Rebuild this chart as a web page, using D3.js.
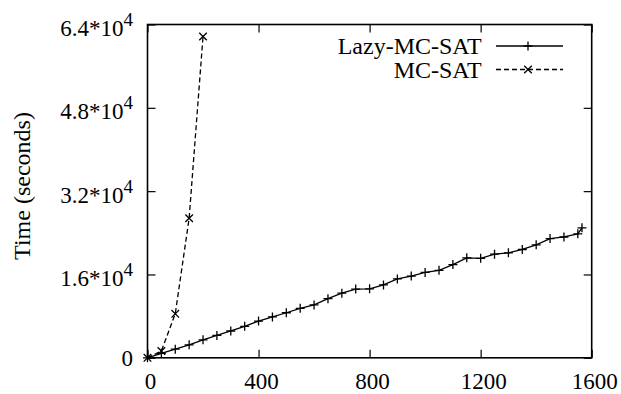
<!DOCTYPE html>
<html>
<head>
<meta charset="utf-8">
<script src="https://cdn.jsdelivr.net/npm/d3@7"></script>
<style>
  body { margin: 0; background: #fff; }
  text { font-family: "Liberation Serif", "Times New Roman", serif; fill: #000; }
</style>
</head>
<body>
<script>
  const w = 621;
  const h = 394;

  // Lazy-MC-SAT timings
  const lazyX = [0, 50, 100, 150, 200, 250, 300, 350, 400, 450, 500, 550, 600, 650, 700, 750, 800,
    850, 900, 950, 1000, 1050, 1100, 1150, 1200, 1250, 1300, 1350, 1400, 1450, 1500, 1550, 1565];
  const lazyY = [0, 850, 1650, 2500, 3450, 4300, 5150, 6050, 7050, 7850, 8650, 9500, 10150, 11350,
    12400, 13200, 13250, 14000, 15150, 15700, 16400, 16800, 17900, 19200, 19100, 19900, 20150,
    20800, 21700, 22900, 23200, 23800, 24950];

  // MC-SAT timings
  const mcX = [0, 50, 100, 150, 200];
  const mcY = [0, 1300, 8450, 26800, 61700];

  const xTicks = [0, 400, 800, 1200, 1600];
  const yTicks = [0, 16000, 32000, 48000, 64000];
  const yTickLabels = ['0', '1.6*10', '3.2*10', '4.8*10', '6.4*10'];

  const padL = 147.5, padR = 591.7, padT = 24.5, padB = 357.8;

  const xScale = d3.scaleLinear().domain([0, 1600]).range([padL, padR]);
  const yScale = d3.scaleLinear().domain([0, 64000]).range([padB, padT]);

  const svg = d3.select('body')
    .append('svg')
    .attr('width', w)
    .attr('height', h);

  // ticks (inward, mirrored on top/right)
  const tickLen = 8;
  const xAxisBottom = d3.axisBottom(xScale).tickValues(xTicks).tickSizeInner(-tickLen).tickSizeOuter(0).tickFormat('');
  const xAxisTop = d3.axisTop(xScale).tickValues(xTicks).tickSizeInner(-tickLen).tickSizeOuter(0).tickFormat('');
  const yAxisLeft = d3.axisLeft(yScale).tickValues(yTicks).tickSizeInner(-tickLen).tickSizeOuter(0).tickFormat('');
  const yAxisRight = d3.axisRight(yScale).tickValues(yTicks).tickSizeInner(-tickLen).tickSizeOuter(0).tickFormat('');

  [[xAxisBottom, 'translate(0,' + padB + ')'], [xAxisTop, 'translate(0,' + padT + ')'],
   [yAxisLeft, 'translate(' + padL + ',0)'], [yAxisRight, 'translate(' + padR + ',0)']].forEach(a => {
    const g = svg.append('g').attr('transform', a[1]).call(a[0]);
    g.select('.domain').remove();
    g.selectAll('line').attr('stroke', '#000').attr('stroke-width', 1.2);
  });

  // border
  svg.append('rect')
    .attr('x', padL).attr('y', padT)
    .attr('width', padR - padL).attr('height', padB - padT)
    .attr('fill', 'none').attr('stroke', '#000').attr('stroke-width', 1.6);

  // x tick labels
  svg.selectAll('.xlab')
    .data(xTicks)
    .enter().append('text')
    .attr('x', d => xScale(d) + 3)
    .attr('y', 388.5)
    .attr('text-anchor', 'middle')
    .attr('font-size', 23)
    .text(d => d);

  // y tick labels
  yTicks.forEach((v, i) => {
    const t = svg.append('text')
      .attr('x', 133)
      .attr('text-anchor', 'end')
      .attr('font-size', 23);
    if (v === 0) {
      t.attr('y', yScale(v) + 8.3).text(yTickLabels[i]);
    } else {
      t.attr('y', yScale(v) + 11.5);
      t.append('tspan').text(yTickLabels[i]);
      t.append('tspan').attr('dy', -10).attr('font-size', 19).text('4');
    }
  });

  // y axis title
  svg.append('text')
    .attr('transform', 'translate(29.5,186) rotate(-90)')
    .attr('text-anchor', 'middle')
    .attr('font-size', 24)
    .text('Time (seconds)');

  const lazyData = lazyX.map((x, i) => [x, lazyY[i]]);
  const mcData = mcX.map((x, i) => [x, mcY[i]]);

  const line = d3.line().x(d => xScale(d[0])).y(d => yScale(d[1]));

  svg.append('path')
    .attr('d', line(lazyData))
    .attr('fill', 'none').attr('stroke', '#000').attr('stroke-width', 1.3);

  svg.append('path')
    .attr('d', line(mcData))
    .attr('fill', 'none').attr('stroke', '#000').attr('stroke-width', 1.3)
    .attr('stroke-dasharray', '5,3');

  const plusPath = (cx, cy, s) => `M${cx - s},${cy}H${cx + s}M${cx},${cy - s}V${cy + s}`;
  const crossPath = (cx, cy, s) => `M${cx - s},${cy - s}L${cx + s},${cy + s}M${cx - s},${cy + s}L${cx + s},${cy - s}`;

  svg.append('g').selectAll('path')
    .data(lazyData)
    .enter().append('path')
    .attr('d', d => plusPath(xScale(d[0]), yScale(d[1]), 4.5))
    .attr('stroke', '#000').attr('stroke-width', 1.3);

  svg.append('g').selectAll('path')
    .data(mcData)
    .enter().append('path')
    .attr('d', d => crossPath(xScale(d[0]), yScale(d[1]), 3.8))
    .attr('stroke', '#000').attr('stroke-width', 1.3);

  // legend
  const legend = [
    { name: 'Lazy-MC-SAT', y: 46, dash: null, mark: plusPath },
    { name: 'MC-SAT', y: 69.5, dash: '5,3', mark: crossPath }
  ];
  legend.forEach(l => {
    svg.append('text')
      .attr('x', 481.7).attr('y', l.y + 8.3)
      .attr('text-anchor', 'end')
      .attr('font-size', 24)
      .text(l.name);
    svg.append('line')
      .attr('x1', 496).attr('x2', 563).attr('y1', l.y).attr('y2', l.y)
      .attr('stroke', '#000').attr('stroke-width', 1.3)
      .attr('stroke-dasharray', l.dash);
    svg.append('path')
      .attr('d', l.mark(528, l.y, l.mark === plusPath ? 4.5 : 3.8))
      .attr('stroke', '#000').attr('stroke-width', 1.3);
  });
</script>
</body>
</html>
